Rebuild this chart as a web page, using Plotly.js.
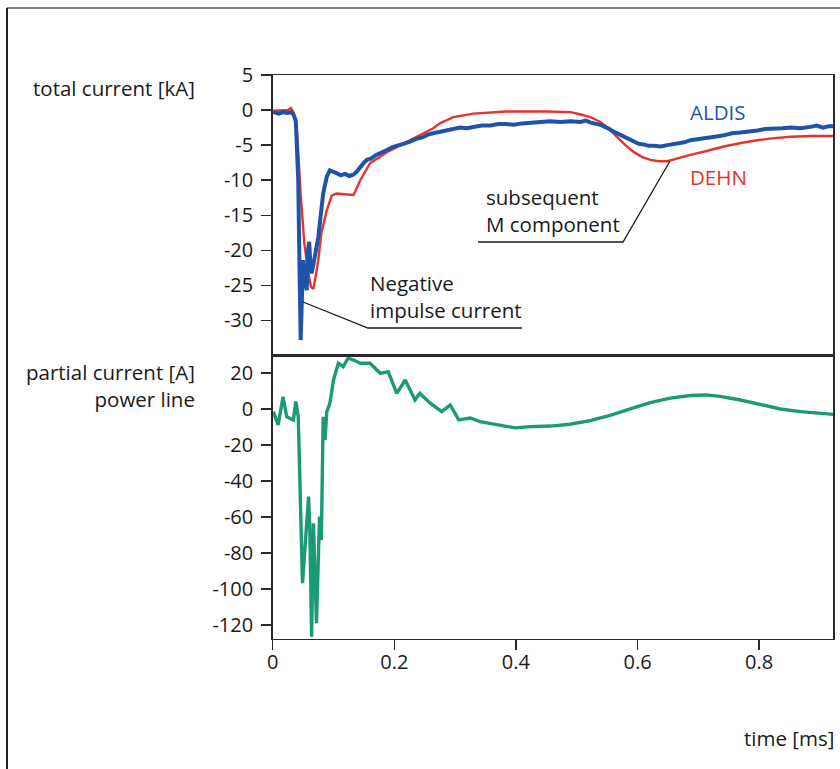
<!DOCTYPE html>
<html>
<head>
<meta charset="utf-8">
<script src="https://cdn.plot.ly/plotly-3.0.1.min.js"></script>
<style>html,body{margin:0;padding:0;background:#fff;}#chart{width:840px;height:769px;}</style>
</head>
<body>
<div id="chart"></div>
<script>
// ---- data (time in ms) ----
const aldisTime = [0.001,0.010,0.017,0.024,0.030,0.034,0.038,0.042,0.044,0.046,0.048,0.050,0.053,0.056,0.058,0.060,0.062,0.064,0.068,0.075,0.083,0.089,0.094,0.100,0.105,0.112,0.119,0.126,0.133,0.139,0.144,0.150,0.155,0.162,0.170,0.179,0.188,0.197,0.206,0.216,0.226,0.236,0.246,0.255,0.264,0.275,0.285,0.296,0.308,0.319,0.330,0.344,0.358,0.371,0.384,0.397,0.410,0.425,0.440,0.456,0.473,0.490,0.506,0.515,0.523,0.531,0.539,0.546,0.552,0.559,0.566,0.573,0.580,0.587,0.594,0.602,0.610,0.618,0.627,0.638,0.649,0.658,0.667,0.677,0.687,0.700,0.713,0.727,0.742,0.755,0.769,0.783,0.797,0.810,0.824,0.838,0.852,0.868,0.884,0.895,0.905,0.914,0.922];
const aldisKA   = [-0.3,-0.5,-0.3,-0.4,-0.3,-0.6,-1.5,-10,-22,-32.8,-27,-21.4,-24,-25.7,-20,-18.8,-22,-23.3,-21.5,-18.1,-11.9,-9.5,-8.6,-8.9,-9.0,-9.3,-9.1,-9.4,-9.2,-8.7,-8.1,-7.5,-7.1,-6.9,-6.4,-6.1,-5.7,-5.3,-5.0,-4.8,-4.5,-4.1,-3.9,-3.5,-3.3,-3.1,-2.9,-2.7,-2.5,-2.6,-2.4,-2.2,-2.2,-2.0,-2.0,-2.1,-1.9,-1.8,-1.8,-1.6,-1.7,-1.6,-1.7,-1.5,-1.8,-1.9,-2.1,-2.4,-2.6,-3.0,-3.3,-3.7,-4.0,-4.3,-4.5,-4.8,-4.9,-5.1,-5.1,-5.2,-5.0,-4.9,-4.7,-4.6,-4.3,-4.1,-3.9,-3.8,-3.6,-3.3,-3.2,-3.1,-2.9,-2.7,-2.7,-2.6,-2.5,-2.6,-2.4,-2.2,-2.5,-2.3,-2.3];

const dehnTime = [0.001,0.025,0.030,0.034,0.040,0.046,0.052,0.058,0.063,0.067,0.071,0.075,0.080,0.089,0.097,0.105,0.119,0.133,0.144,0.160,0.188,0.226,0.250,0.264,0.275,0.297,0.330,0.384,0.450,0.490,0.510,0.525,0.539,0.552,0.566,0.580,0.594,0.608,0.621,0.635,0.649,0.668,0.687,0.715,0.742,0.770,0.797,0.825,0.852,0.885,0.922];
const dehnKA   = [-0.1,0.0,0.3,-0.3,-3,-12,-19,-23,-25.2,-25.5,-23.5,-21.4,-17.5,-14.3,-12.2,-11.9,-12.0,-12.1,-10.0,-7.6,-6.0,-4.3,-3.2,-2.6,-1.9,-1.0,-0.5,-0.2,-0.2,-0.3,-0.7,-1.1,-1.7,-2.6,-3.8,-5.0,-6.0,-6.7,-7.1,-7.3,-7.3,-6.9,-6.4,-5.8,-5.2,-4.7,-4.3,-4.0,-3.8,-3.7,-3.7];

const lineTime = [0.001,0.009,0.017,0.023,0.028,0.034,0.038,0.042,0.049,0.056,0.059,0.061,0.064,0.067,0.072,0.077,0.080,0.083,0.086,0.089,0.094,0.100,0.108,0.116,0.124,0.133,0.144,0.160,0.177,0.190,0.204,0.218,0.234,0.242,0.259,0.278,0.292,0.306,0.325,0.341,0.361,0.382,0.399,0.424,0.457,0.489,0.522,0.555,0.588,0.621,0.654,0.687,0.712,0.736,0.769,0.802,0.835,0.868,0.901,0.922];
const lineA    = [-1.5,-8.9,6.8,-4.3,-5.2,-6.1,4.1,-4.3,-96.8,-59.8,-48.7,-65.4,-126.5,-63.5,-119,-59.8,-72.8,-4.3,-17.2,-1.5,3.2,16.1,25.4,23.5,28.2,27.2,25.4,25.4,19.8,20.7,8.7,16.1,5.0,8.7,3.2,-1.5,2.2,-6.1,-5,-7,-8,-9.5,-10.5,-9.8,-9.5,-8.5,-6.5,-3.5,0,3.5,6,7.5,7.8,7,5,2.5,0,-1.5,-2.5,-3];

const timeTicks = [0, 0.2, 0.4, 0.6, 0.8];
const totalTicks = [5, 0, -5, -10, -15, -20, -25, -30];
const partialTicks = [20, 0, -20, -40, -60, -80, -100, -120];

// ---- layout helpers (pixel -> paper) ----
const W = 840, H = 769;
const px = x => x / W;
const py = y => 1 - y / H;
const FONT = "Open Sans, Noto Sans, sans-serif";
const TXT = "#1a1a1a";
const FS = 20.5;

const traces = [
  {x: dehnTime, y: dehnKA, xaxis: 'x2', yaxis: 'y2', mode: 'lines', name: 'DEHN',
   line: {color: '#e8322b', width: 2.4}},
  {x: aldisTime, y: aldisKA, xaxis: 'x2', yaxis: 'y2', mode: 'lines', name: 'ALDIS',
   line: {color: '#1f53a8', width: 4}},
  {x: lineTime, y: lineA, xaxis: 'x', yaxis: 'y', mode: 'lines', name: 'power line',
   line: {color: '#1b9a78', width: 3.4}}
];

const axCommon = {
  showline: true, mirror: true, linecolor: '#2a2a2a', linewidth: 1.5,
  showgrid: false, zeroline: false, ticks: 'outside', ticklen: 10, tickwidth: 1.5,
  tickcolor: '#2a2a2a', tickfont: {family: FONT, size: 20, color: TXT}
};
const xDom = [px(272.7), px(833.3)];

const layout = {
  width: W, height: H,
  margin: {l: 0, r: 0, t: 0, b: 0},
  paper_bgcolor: '#fff', plot_bgcolor: '#fff',
  showlegend: false,
  xaxis: Object.assign({}, axCommon, {domain: xDom, range: [0, 0.922], anchor: 'y',
    tickvals: timeTicks, ticktext: timeTicks.map(String), ticklabelstandoff: -5}),
  xaxis2: Object.assign({}, axCommon, {domain: xDom, range: [0, 0.922], anchor: 'y2',
    ticks: '', showticklabels: false}),
  yaxis: Object.assign({}, axCommon, {domain: [py(638.7), py(355.5)], range: [-127.6, 29.7],
    anchor: 'x', tickvals: partialTicks, ticktext: partialTicks.map(String), ticklabelstandoff: 4}),
  yaxis2: Object.assign({}, axCommon, {domain: [py(355.5), py(75)], range: [-35, 5],
    anchor: 'x2', tickvals: totalTicks, ticktext: totalTicks.map(String), ticklabelstandoff: 4}),
  annotations: [
    {text: 'total current [kA]', x: px(197), y: py(88), xanchor: 'right', yanchor: 'middle'},
    {text: 'partial current [A]<br>power line', x: px(197), y: py(385), xanchor: 'right', yanchor: 'middle'},
    {text: 'time [ms]', x: px(836), y: py(738), xanchor: 'right', yanchor: 'middle'},
    {text: 'ALDIS', x: px(688), y: py(112), xanchor: 'left', yanchor: 'middle', color: '#1f53a8'},
    {text: 'DEHN', x: px(688), y: py(177), xanchor: 'left', yanchor: 'middle', color: '#e8322b'},
    {text: 'subsequent<br>M component', x: px(484), y: py(210), xanchor: 'left', yanchor: 'middle'},
    {text: 'Negative<br>impulse current', x: px(368), y: py(296), xanchor: 'left', yanchor: 'middle'}
  ].map(a => ({
    text: a.text, x: a.x, y: a.y, xref: 'paper', yref: 'paper',
    xanchor: a.xanchor, yanchor: a.yanchor, showarrow: false,
    align: a.xanchor === 'right' ? 'right' : 'left',
    font: {family: FONT, size: FS, color: a.color || TXT}
  })),
  shapes: [
    // outer frame
    {type: 'line', xref: 'paper', yref: 'paper', x0: px(7), x1: px(845), y0: py(8), y1: py(8),
     line: {color: '#555', width: 1.5}},
    {type: 'line', xref: 'paper', yref: 'paper', x0: px(7), x1: px(7), y0: py(8), y1: py(775),
     line: {color: '#222', width: 2}},
    // pointer for M component
    {type: 'path', xref: 'paper', yref: 'paper',
     path: `M ${px(478)} ${py(242)} L ${px(623)} ${py(242)} L ${px(670)} ${py(161)}`,
     line: {color: '#1a1a1a', width: 1.3}},
    // pointer for negative impulse current
    {type: 'path', xref: 'paper', yref: 'paper',
     path: `M ${px(303)} ${py(302)} L ${px(368)} ${py(328)} L ${px(522)} ${py(328)}`,
     line: {color: '#1a1a1a', width: 1.3}}
  ]
};

Plotly.newPlot('chart', traces, layout, {staticPlot: true, displayModeBar: false});
</script>
</body>
</html>
